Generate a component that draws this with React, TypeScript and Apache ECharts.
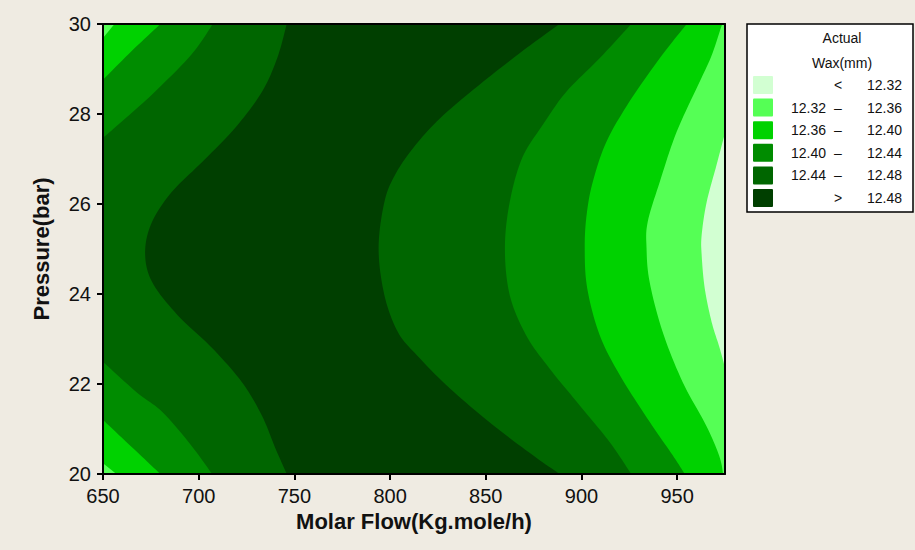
import React, { useEffect, useRef } from "react";
import * as echarts from "echarts";

// Contour level colours (lowest -> highest)
const levelColors = ["#D2FFD2", "#55FF55", "#00D200", "#008C00", "#006600", "#003F00"];
const legendLow = ["", "12.32", "12.36", "12.40", "12.44", ""];
const legendSep = ["<", "–", "–", "–", "–", ">"];
const legendHigh = ["12.32", "12.36", "12.40", "12.44", "12.48", "12.48"];
const legendTitle = ["Actual", "Wax(mm)"];

const xName = "Molar Flow(Kg.mole/h)";
const yName = "Pressure(bar)";
const flowRange = [650, 975];
const pressureRange = [20, 30];

// Contour boundaries: [flow, pressure]
// Left side (value rises to the right)
const L1top = [[656, 30], [650, 29.69]];
const L1bottom = [[650, 20.24], [657, 20]];
const L2top = [[680, 30], [665, 29.4], [650, 28.76]];
const L2bottom = [[650, 21.2], [665, 20.6], [680, 20]];
const L3top = [[707.4, 30], [696, 29.31], [677, 28.49], [663, 27.95], [650, 27.47]];
const L3bottom = [[650, 22.49], [668, 21.8], [681, 21.38], [696, 20.64], [707, 20]];
const L4 = [
  [746, 30], [741, 29.24], [733, 28.49], [719, 27.69], [701.7, 26.93], [686, 26.27],
  [675.6, 25.6], [672, 24.93], [675.6, 24.27], [689, 23.53], [707, 22.8], [722.6, 22.04],
  [733, 21.3], [740, 20.58], [746, 20],
];
// Right side (value falls to the right)
const R4 = [
  [888.6, 30], [871.4, 29.47], [848.4, 28.71], [826, 27.9], [812, 27.24], [802.5, 26.64],
  [797, 26.04], [794, 25.02], [797, 23.98], [804, 23.16], [814, 22.64], [831, 21.91],
  [853.7, 21.09], [874.5, 20.42], [888.6, 20],
];
const R3 = [
  [926, 30], [909.5, 29.24], [892, 28.49], [879.8, 27.76], [869, 27.02], [862.5, 26.04],
  [860, 25.02], [862.5, 23.98], [871, 23.09], [883, 22.36], [899, 21.53], [914.7, 20.71],
  [926, 20],
];
const R2 = [
  [955, 30], [940.9, 29.24], [925, 28.27], [913, 27.38], [905.9, 26.49], [902.7, 25.76],
  [901.7, 25.02], [903, 24.13], [909.5, 23.09], [920, 22.2], [935.6, 21.16], [947.6, 20.42],
  [954, 20],
];
const R1 = [
  [973.5, 30], [968, 29.3], [961.7, 28.71], [949.7, 27.6], [940.9, 26.49], [934.6, 25.6],
  [934, 25.02], [935.6, 24.27], [942.4, 23.16], [952.9, 22.04], [965, 21.09], [972, 20.4],
  [974, 20],
];
const R0 = [
  [975, 27.58], [970.6, 26.87], [965.4, 26.04], [962.8, 25.31], [962.8, 24.87],
  [964.4, 24.13], [968, 23.38], [972.2, 22.8], [975, 22.36],
];

const TL = [flowRange[0], pressureRange[1]];
const BL = [flowRange[0], pressureRange[0]];
const TR = [flowRange[1], pressureRange[1]];
const BR = [flowRange[1], pressureRange[0]];

const pieces = [
  { curve: L4, close: [BL, TL], level: 4 },
  { curve: L3top, close: [TL], level: 3 },
  { curve: L3bottom, close: [BL], level: 3 },
  { curve: L2top, close: [TL], level: 2 },
  { curve: L2bottom, close: [BL], level: 2 },
  { curve: L1top, close: [TL], level: 1 },
  { curve: L1bottom, close: [BL], level: 1 },
  { curve: R4, close: [BR, TR], level: 4 },
  { curve: R3, close: [BR, TR], level: 3 },
  { curve: R2, close: [BR, TR], level: 2 },
  { curve: R1, close: [BR, TR], level: 1 },
  { curve: R0, close: [], level: 0 },
];

function smoothPath(pts: number[][]): number[][] {
  if (pts.length < 3) return pts;
  const out: number[][] = [];
  const n = pts.length;
  for (let i = 0; i < n - 1; i++) {
    const p0 = pts[Math.max(0, i - 1)];
    const p1 = pts[i];
    const p2 = pts[i + 1];
    const p3 = pts[Math.min(n - 1, i + 2)];
    const steps = 10;
    for (let s = 0; s < steps; s++) {
      const t = s / steps;
      const t2 = t * t;
      const t3 = t2 * t;
      const f = (a: number, b: number, c: number, d: number) =>
        0.5 * (2 * b + (-a + c) * t + (2 * a - 5 * b + 4 * c - d) * t2 + (-a + 3 * b - 3 * c + d) * t3);
      out.push([f(p0[0], p1[0], p2[0], p3[0]), f(p0[1], p1[1], p2[1], p3[1])]);
    }
  }
  out.push(pts[n - 1]);
  return out;
}

const FONT = "Liberation Sans, Arial, sans-serif";
const BG = "#EFEBE2";

export default function App() {
  const ref = useRef<HTMLDivElement>(null);
  useEffect(() => {
    document.body.style.margin = "0";
    const chart = echarts.init(ref.current!, null, { renderer: "svg" });

    const legendX = 747;
    const legendY = 24;
    const rowY0 = 85;
    const rowStep = 22.6;
    const legendGraphics: any[] = [
      {
        type: "rect",
        shape: { x: legendX, y: legendY, width: 166, height: 188 },
        style: { fill: "#fff", stroke: "#000", lineWidth: 1.5 },
        z: 100,
      },
      {
        type: "text",
        x: 842, y: 38,
        style: { text: legendTitle[0], fontSize: 14, fontFamily: FONT, fill: "#111", align: "center", verticalAlign: "middle" },
        z: 101,
      },
      {
        type: "text",
        x: 842, y: 63,
        style: { text: legendTitle[1], fontSize: 14, fontFamily: FONT, fill: "#111", align: "center", verticalAlign: "middle" },
        z: 101,
      },
    ];
    levelColors.forEach((c, i) => {
      const cy = rowY0 + i * rowStep;
      legendGraphics.push({
        type: "rect",
        shape: { x: 753, y: cy - 9, width: 20, height: 18, r: 1 },
        style: { fill: c },
        z: 101,
      });
      if (legendLow[i]) {
        legendGraphics.push({
          type: "text", x: 826, y: cy,
          style: { text: legendLow[i], fontSize: 14, fontFamily: FONT, fill: "#111", align: "right", verticalAlign: "middle" },
          z: 101,
        });
      }
      legendGraphics.push({
        type: "text", x: 838, y: cy,
        style: { text: legendSep[i], fontSize: 14, fontFamily: FONT, fill: "#111", align: "center", verticalAlign: "middle" },
        z: 101,
      });
      legendGraphics.push({
        type: "text", x: 902, y: cy,
        style: { text: legendHigh[i], fontSize: 14, fontFamily: FONT, fill: "#111", align: "right", verticalAlign: "middle" },
        z: 101,
      });
    });

    const axisLineStyle = { color: "#000", width: 2 };

    chart.setOption({
      animation: false,
      backgroundColor: BG,
      grid: {
        left: 103, top: 24, width: 622, height: 450,
        show: true, backgroundColor: levelColors[5], borderWidth: 0,
      },
      xAxis: [
        {
          type: "value", min: flowRange[0], max: flowRange[1], interval: 50, position: "bottom",
          axisLine: { show: true, onZero: false, lineStyle: axisLineStyle },
          axisTick: { show: true, length: 6, lineStyle: axisLineStyle },
          axisLabel: { fontSize: 20, color: "#111", margin: 12, fontFamily: FONT, showMaxLabel: false },
          splitLine: { show: false },
          name: xName, nameLocation: "middle", nameGap: 36,
          nameTextStyle: { fontSize: 22, fontWeight: "bold", color: "#111", fontFamily: FONT },
          z: 10,
        },
        {
          type: "value", min: flowRange[0], max: flowRange[1], position: "top",
          axisLine: { show: true, onZero: false, lineStyle: axisLineStyle },
          axisTick: { show: false }, axisLabel: { show: false }, splitLine: { show: false },
          z: 10,
        },
      ],
      yAxis: [
        {
          type: "value", min: pressureRange[0], max: pressureRange[1], interval: 2, position: "left",
          axisLine: { show: true, onZero: false, lineStyle: axisLineStyle },
          axisTick: { show: true, length: 6, lineStyle: axisLineStyle },
          axisLabel: { fontSize: 20, color: "#111", margin: 12, fontFamily: FONT },
          splitLine: { show: false },
          name: yName, nameLocation: "middle", nameGap: 51,
          nameTextStyle: { fontSize: 22, fontWeight: "bold", color: "#111", fontFamily: FONT },
          z: 10,
        },
        {
          type: "value", min: pressureRange[0], max: pressureRange[1], position: "right",
          axisLine: { show: true, onZero: false, lineStyle: axisLineStyle },
          axisTick: { show: false }, axisLabel: { show: false }, splitLine: { show: false },
          z: 10,
        },
      ],
      series: [
        {
          type: "custom",
          silent: true,
          clip: true,
          data: pieces.map((p) => p.curve[0]),
          renderItem: (params: any, api: any) => {
            const piece = pieces[params.dataIndex];
            const px = piece.curve.map((pt) => api.coord(pt));
            const pts = smoothPath(px).concat(piece.close.map((pt) => api.coord(pt)));
            return {
              type: "polygon",
              shape: { points: pts },
              style: { fill: levelColors[piece.level], stroke: null },
            };
          },
          z: 2,
        },
      ],
      graphic: legendGraphics,
    });
    return () => chart.dispose();
  }, []);
  return <div ref={ref} style={{ width: 915, height: 550 }} />;
}
